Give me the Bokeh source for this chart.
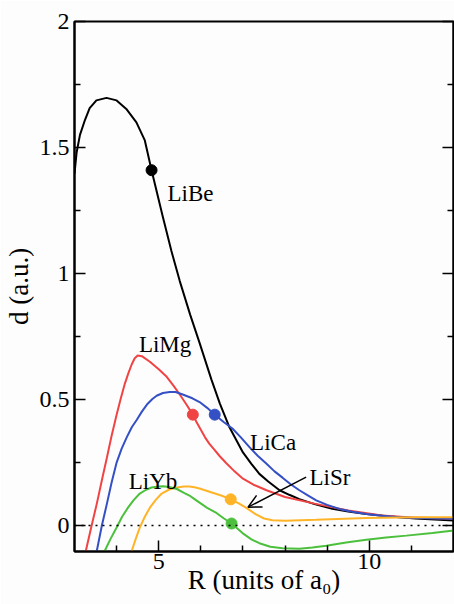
from bokeh.plotting import figure
from bokeh.models import LinearAxis, FixedTicker, Label, Arrow, OpenHead, Span, CustomJSTickFormatter
from bokeh.embed import file_html
from bokeh.resources import INLINE

# ---- data (R in units of a0, d in a.u.) ----
libe_R = [3.0, 3.05, 3.13, 3.25, 3.36, 3.52, 3.76, 4.0, 4.23, 4.47, 4.67, 4.83, 5.1, 5.3, 5.5, 5.75, 5.97,
          6.25, 6.45, 6.68, 7.0, 7.2, 7.39, 7.6, 7.87, 8.1, 8.34, 8.7, 9.12, 9.5, 9.93, 10.5, 11.1, 12.0]
libe_d = [1.396, 1.48, 1.55, 1.61, 1.656, 1.687, 1.697, 1.687, 1.653, 1.60, 1.528, 1.41, 1.223, 1.09, 0.97, 0.835, 0.725,
          0.58, 0.485, 0.39, 0.29, 0.245, 0.205, 0.175, 0.14, 0.122, 0.105, 0.085, 0.067, 0.056, 0.046, 0.036, 0.028, 0.02]

limg_R = [3.27, 3.4, 3.53, 3.65, 3.77, 3.88, 4.0, 4.1, 4.19, 4.28, 4.36, 4.43, 4.5, 4.6, 4.79, 5.0, 5.19, 5.35,
          5.5, 5.65, 5.81, 5.9, 6.0, 6.1, 6.2, 6.3, 6.45, 6.6, 6.8, 7.0, 7.25, 7.56, 8.0, 8.7, 9.5, 10.3, 11.0, 12.0]
limg_d = [-0.1, -0.005, 0.087, 0.18, 0.27, 0.355, 0.44, 0.505, 0.56, 0.605, 0.64, 0.664, 0.675, 0.672, 0.65, 0.62, 0.59, 0.555,
          0.52, 0.482, 0.44, 0.41, 0.38, 0.35, 0.325, 0.305, 0.275, 0.248, 0.215, 0.186, 0.162, 0.14, 0.113, 0.087, 0.06, 0.04, 0.032, 0.027]

lica_R = [3.53, 3.65, 3.77, 3.88, 4.0, 4.12, 4.24, 4.36, 4.48, 4.6, 4.72, 4.85, 4.95, 5.1, 5.26, 5.4, 5.57, 5.8, 5.97,
          6.15, 6.33, 6.55, 6.75, 6.95, 7.16, 7.35, 7.56, 7.75, 7.94, 8.14, 8.34, 8.54, 8.74, 9.0, 9.29, 9.6, 9.93,
          10.3, 10.71, 11.3, 12.0]
lica_d = [-0.1, 0.0, 0.087, 0.17, 0.25, 0.305, 0.35, 0.39, 0.42, 0.452, 0.48, 0.502, 0.515, 0.526, 0.53, 0.53, 0.52, 0.505, 0.49,
          0.467, 0.44, 0.41, 0.385, 0.35, 0.31, 0.277, 0.245, 0.215, 0.19, 0.163, 0.14, 0.12, 0.10, 0.082, 0.066, 0.055, 0.046,
          0.039, 0.033, 0.029, 0.027]

lisr_R = [4.36, 4.45, 4.55, 4.67, 4.79, 4.93, 5.07, 5.25, 5.43, 5.6, 5.73, 5.85, 5.97, 6.28, 6.5, 6.71, 6.9, 7.08,
          7.3, 7.5, 7.7, 8.0, 8.74, 9.93, 11.1, 12.0]
lisr_d = [-0.1, -0.055, -0.008, 0.035, 0.071, 0.102, 0.127, 0.143, 0.151, 0.155, 0.155, 0.152, 0.147, 0.13, 0.118, 0.104, 0.088, 0.07,
          0.045, 0.028, 0.021, 0.019, 0.023, 0.03, 0.033, 0.033]

liyb_R = [3.72, 3.85, 4.0, 4.13, 4.27, 4.4, 4.55, 4.7, 4.83, 5.0, 5.1, 5.25, 5.43, 5.6, 5.73, 5.85, 5.97, 6.15, 6.37,
          6.55, 6.73, 6.99, 7.2, 7.39, 7.65, 7.94, 8.34, 8.65, 8.98, 9.45, 9.93, 10.4, 10.88, 11.5, 12.0]
liyb_d = [-0.1, -0.055, -0.008, 0.035, 0.071, 0.1, 0.127, 0.142, 0.151, 0.155, 0.156, 0.153, 0.145, 0.13, 0.119, 0.105, 0.091, 0.07, 0.05,
          0.028, 0.008, -0.03, -0.055, -0.07, -0.084, -0.09, -0.092, -0.087, -0.08, -0.067, -0.056, -0.047, -0.04, -0.03, -0.02]

# marked points on each curve
dot_R = [4.83, 5.81, 6.33, 6.71, 6.73]
dot_d = [1.41, 0.44, 0.44, 0.104, 0.008]

names = ["LiBe", "LiMg", "LiCa", "LiSr", "LiYb"]
colors = ["#000000", "#f04444", "#3450c4", "#ffb428", "#4cc03c"]

x_major = [5, 10]
x_minor = [4, 6, 7, 8, 9, 11]
y_major = [0, 0.5, 1, 1.5, 2]
y_minor = [0.25, 0.75, 1.25, 1.75]
y_tick_labels = {0: "0", 0.5: "0.5", 1: "1", 1.5: "1.5", 2: "2"}

# label anchors (left edge, baseline) in data units
label_R = [5.21, 4.53, 7.17, 8.58, 4.29]
label_d = [1.317, 0.718, 0.33, 0.19, 0.175]

FONT = "Liberation Serif"

p = figure(width=454, height=604, x_range=(3, 12), y_range=(-0.103, 2.0),
           output_backend="svg", toolbar_location=None,
           min_border_left=73, min_border_right=1, min_border_top=21, min_border_bottom=53)
p.grid.visible = False
p.background_fill_color = "#fdfdfe"
p.border_fill_color = "#fdfdfe"
p.outline_line_color = "black"
p.outline_line_width = 2

def style_axis(ax, ticks, minor):
    ax.ticker = FixedTicker(ticks=ticks, minor_ticks=minor)
    ax.major_tick_in = 11
    ax.major_tick_out = 0
    ax.minor_tick_in = 6
    ax.minor_tick_out = 0
    ax.major_tick_line_width = 1.5
    ax.minor_tick_line_width = 1.5
    ax.axis_line_width = 2
    ax.major_label_text_font = FONT
    ax.major_label_text_font_size = "24px"
    ax.major_label_text_color = "black"
    ax.axis_label_text_font = FONT
    ax.axis_label_text_font_size = "27px"
    ax.axis_label_text_font_style = "normal"
    ax.axis_label_text_color = "black"

xa = p.xaxis[0]
style_axis(xa, x_major, x_minor)
xa.axis_label = "R (units of a\u2080)"
xa.major_label_standoff = 2
xa.axis_label_standoff = -7

ya = p.yaxis[0]
style_axis(ya, y_major, y_minor)
ya.major_label_overrides = y_tick_labels
ya.axis_label = "d (a.u.)"
ya.major_label_standoff = 5
ya.axis_label_standoff = 3

ra = LinearAxis()
style_axis(ra, y_major, y_minor)
ra.formatter = CustomJSTickFormatter(code="return ''")
ra.major_label_standoff = 0
p.add_layout(ra, "right")

# zero line
p.add_layout(Span(location=0, dimension="width", line_color="black",
                  line_width=1.5, line_dash="2 5"))

series = [(libe_R, libe_d), (limg_R, limg_d), (lica_R, lica_d), (lisr_R, lisr_d), (liyb_R, liyb_d)]
for (R, d), c in zip(series, colors):
    p.line(R, d, line_color=c, line_width=2)

p.scatter(dot_R, dot_d, size=11, color=colors, line_color=colors)

for n, lx, ly in zip(names, label_R, label_d):
    p.add_layout(Label(x=lx, y=ly, text=n, text_font=FONT, text_font_size="23px",
                       text_color="black", text_baseline="alphabetic", text_align="left"))

# arrow pointing at LiSr curve
p.add_layout(Arrow(end=OpenHead(size=13, line_width=1.5, line_color="black"),
                   x_start=8.5, y_start=0.192, x_end=7.12, y_end=0.073,
                   line_width=1.5, line_color="black"))

open("out.html", "w").write(file_html(p, INLINE))
